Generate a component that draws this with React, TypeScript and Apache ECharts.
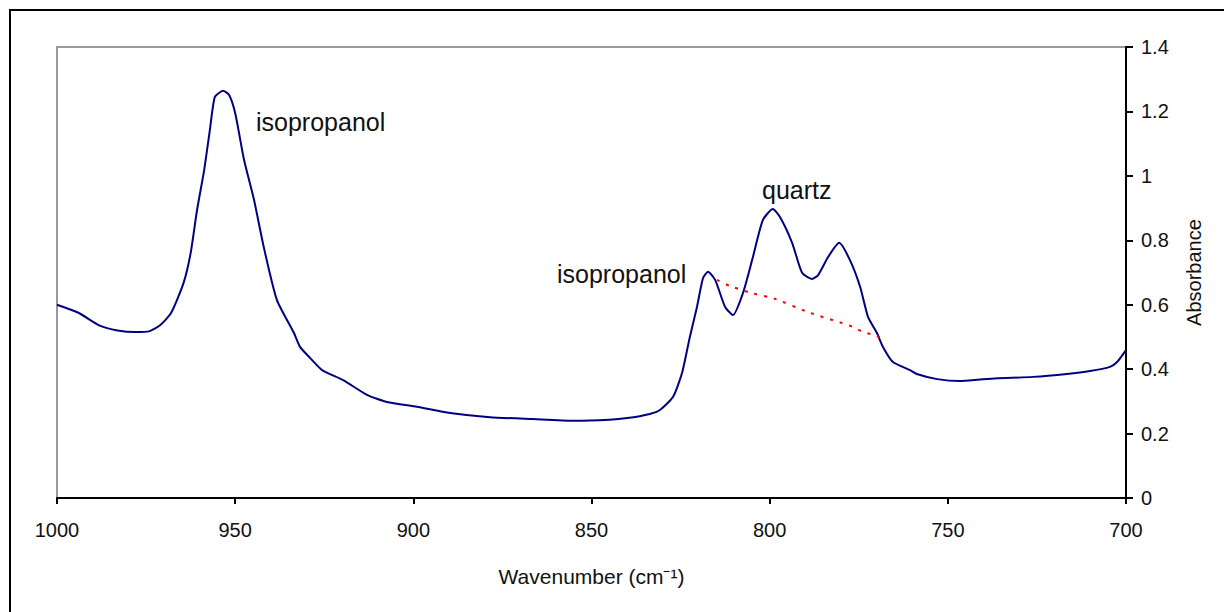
import React, { useEffect, useRef } from "react";
import * as echarts from "echarts";

// Wavenumber (cm-1) and absorbance of the measured spectrum
const wavenumbers: number[] = [
  1000, 994, 988, 983, 978, 974, 971, 968, 964.5, 962.5, 960.7, 958.7, 957.1, 955.7, 953.4,
  951.7, 950.0, 947.5, 944.7, 942, 938.3, 933.5, 931.8, 929.0, 925.6, 919.7, 913, 907.4, 899,
  889.7, 878.5, 866.4, 855.2, 845, 840, 833.6, 830.8, 827.1, 824.6, 822.4, 820.4, 818.7, 817.3,
  815.3, 812.5, 810.3, 807.5, 804.7, 801.9, 799.1, 797.1, 793.7, 790.9, 788.1, 786.4, 783.6,
  780.5, 777.5, 774.6, 772.4, 769.9, 768.2, 765.4, 760.6, 758.7, 753, 746.6, 740.1, 726.1,
  716.6, 710.1, 704.5, 702.5, 700,
];
const absorbance: number[] = [
  0.6, 0.575, 0.535, 0.52, 0.515, 0.518, 0.537, 0.574, 0.667, 0.76, 0.894, 1.018, 1.142, 1.245,
  1.264, 1.251, 1.195, 1.049, 0.925, 0.78, 0.615, 0.512, 0.469, 0.435, 0.397, 0.366, 0.32, 0.298,
  0.283, 0.264, 0.251, 0.245, 0.24, 0.243, 0.248, 0.261, 0.273, 0.314, 0.388, 0.5, 0.593, 0.683,
  0.702, 0.677, 0.593, 0.568, 0.636, 0.748, 0.863, 0.897, 0.872, 0.792, 0.699, 0.68, 0.692,
  0.748, 0.792, 0.739, 0.655, 0.562, 0.512, 0.469, 0.422, 0.397, 0.385, 0.369, 0.363, 0.369,
  0.376, 0.385, 0.394, 0.407, 0.422, 0.459,
];

// Baseline (red dotted) under the quartz doublet
const baselineWavenumbers: number[] = [814.8, 811.1, 805.0, 798.5, 789.2, 779.7, 776.6, 773.8, 770.4, 769.0];
const baselineAbsorbance: number[] = [0.677, 0.658, 0.636, 0.618, 0.577, 0.543, 0.531, 0.515, 0.506, 0.498];

const xTicks = { min: 700, max: 1000, interval: 50 };
const yTicks = { min: 0, max: 1.4, interval: 0.2 };

const annotations = [
  { text: "isopropanol", x: 256, y: 122 },
  { text: "isopropanol", x: 557, y: 274 },
  { text: "quartz", x: 762, y: 190 },
];

const FONT = "'Liberation Sans', Arial, sans-serif";

export default function App() {
  const ref = useRef<HTMLDivElement>(null);
  useEffect(() => {
    if (!ref.current) return;
    const chart = echarts.init(ref.current, null, { renderer: "svg" });
    const spectrum = wavenumbers.map((w, i) => [w, absorbance[i]]);
    const baseline = baselineWavenumbers.map((w, i) => [w, baselineAbsorbance[i]]);
    chart.setOption({
      animation: false,
      backgroundColor: "#ffffff",
      grid: {
        left: 57,
        top: 47,
        right: 98,
        bottom: 114,
        show: true,
        borderColor: "#9a9a9a",
        borderWidth: 2,
        backgroundColor: "#ffffff",
      },
      xAxis: {
        type: "value",
        min: xTicks.min,
        max: xTicks.max,
        interval: xTicks.interval,
        inverse: true,
        name: "Wavenumber (cm⁻¹)",
        nameLocation: "middle",
        nameGap: 68,
        nameTextStyle: { fontFamily: FONT, fontSize: 21, color: "#111" },
        axisLine: { lineStyle: { color: "#000", width: 2 } },
        axisTick: { inside: false, length: 6, lineStyle: { color: "#000", width: 2 } },
        axisLabel: {
          margin: 22,
          fontFamily: FONT,
          fontSize: 20,
          color: "#111",
          formatter: (v: number) => String(v),
        },
        splitLine: { show: false },
      },
      yAxis: {
        type: "value",
        position: "right",
        min: yTicks.min,
        max: yTicks.max,
        interval: yTicks.interval,
        name: "Absorbance",
        nameLocation: "middle",
        nameGap: 58,
        nameRotate: 90,
        nameTextStyle: { fontFamily: FONT, fontSize: 20, color: "#111" },
        axisLine: { show: true, lineStyle: { color: "#000", width: 2 } },
        axisTick: { show: true, inside: false, length: 7, lineStyle: { color: "#000", width: 2 } },
        axisLabel: {
          margin: 15,
          fontFamily: FONT,
          fontSize: 20,
          color: "#111",
          formatter: (v: number) => String(Number(v.toFixed(1))),
        },
        splitLine: { show: false },
      },
      series: [
        {
          type: "line",
          data: spectrum,
          showSymbol: false,
          smooth: 0.2,
          lineStyle: { color: "#000080", width: 2 },
          z: 3,
        },
        {
          type: "line",
          data: baseline,
          showSymbol: false,
          smooth: 0.3,
          lineStyle: { color: "#ff0000", width: 2, type: [3, 7] },
          z: 4,
        },
      ],
      graphic: [
        {
          type: "rect",
          shape: { x: 10, y: 10, width: 1300, height: 700 },
          style: { fill: "none", stroke: "#000", lineWidth: 2 },
          silent: true,
          z: 100,
        },
        ...annotations.map((a) => ({
          type: "text",
          x: a.x,
          y: a.y,
          style: {
            text: a.text,
            fontFamily: FONT,
            fontSize: 25,
            fill: "#111",
            textVerticalAlign: "middle",
            verticalAlign: "middle",
            align: "left",
          },
          z: 100,
        })),
      ],
    });
    return () => chart.dispose();
  }, []);
  return (
    <div
      ref={ref}
      style={{ position: "fixed", left: 0, top: 0, width: 1224, height: 612 }}
    />
  );
}
